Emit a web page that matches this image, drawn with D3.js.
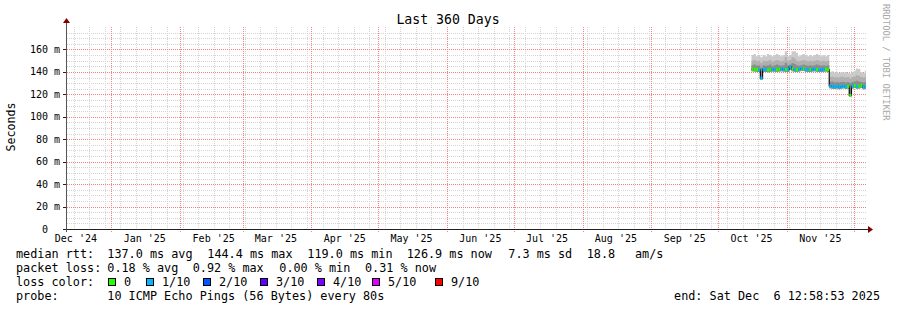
<!DOCTYPE html>
<html><head><meta charset="utf-8">
<script src="https://cdn.jsdelivr.net/npm/d3@7"></script>
<style>
html,body{margin:0;padding:0;background:#fff;}
text{font-family:"DejaVu Sans Mono",monospace;white-space:pre;}
</style></head>
<body><svg id="c" width="897" height="310"></svg>
<script>
// ---------- data ----------
const title = "Last 360 Days";
const rangeStart = new Date(2024, 11, 11, 12, 58, 53);
const rangeEnd   = new Date(2025, 11, 6, 12, 58, 53);
const dataStart  = new Date(2025, 9, 16);
const yTicks = [0, 20, 40, 60, 80, 100, 120, 140, 160];

// daily median rtt (ms), Oct 16 .. Dec 6 2025
const median = [142.5,142.3,142.0,141.8,134.5,142.2,142.0,141.6,141.9,142.3,142.1,141.8,142.4,142.6,142.3,141.9,142.0,144.4,142.5,142.1,141.8,142.3,143.0,142.8,142.2,141.9,142.0,142.3,142.5,142.1,141.8,142.0,142.2,142.4,142.0,
                127.5,127.0,126.8,127.2,126.5,127.0,127.4,126.8,127.1,119.0,127.3,127.6,126.9,127.2,127.8,126.5,126.9];
// daily packet loss (%)
const loss = [0,0,0,0.3,0.5,0.2,0.4,0,0,0.3,0.2,0,0,0.4,0.3,0,0.6,0.2,0,0.3,0,0.2,0.5,0,0.2,0.4,0,0.5,0.2,0,0.4,0.2,0.3,0,0,
              0.3,0.5,0.4,0.6,0.92,0.3,0.2,0.4,0,0,0.2,0,0.3,0,0,0.4,0.31];
// smoke: outer max, upper mid, upper inner, min (ms)
const smokeMax = [155,156,154,155,153,155,154,156,155,154,155,156,155,154,155,158.5,154,155,158.5,158.5,157,154,155,156,155,154,155,154,155,156,155,154,155,154,155,
                  140,140.5,139.5,140,139,140,139.5,140,139,138.5,140,141,143,142.5,140,139,141];
const smokeMid = [150,150.5,149.5,150,148,150,149.5,150,150.5,149,150,150.5,150,149.5,150,153,150,150.5,153,152,150,149.5,150,150.5,150,149.5,150,149.5,150,150.5,150,149.5,150,149.5,150,
                  135.5,136,135,135.5,135,136,135.5,135,135.5,134,135.5,136,137,136.5,135.5,135,136];
const smokeIn  = [146,146.5,145.5,146,144,146,145.5,146,146.5,145,146,146.5,146,145.5,146,148,146,146.5,148,147,146,145.5,146,146.5,146,145.5,146,145.5,146,146.5,146,145.5,146,145.5,146,
                  131,131.5,130.5,131,130.5,131,131,130.5,131,130,131,131.5,132,131.5,131,130.5,131];
const smokeMin = [140.5,140.3,140,139.8,133,140.2,140,139.6,139.9,140.3,140.1,139.8,140.4,140.6,140.3,139.9,140,142,140.5,140.1,139.8,140.3,141,140.8,140.2,139.9,140,140.3,140.5,140.1,139.8,140,140.2,140.4,140,
                  125.5,125,124.8,125.2,124.5,125,125.4,124.8,125.1,118,125.3,125.6,124.9,125.2,125.8,124.5,124.9];

const lossLabels = ["0","1/10","2/10","3/10","4/10","5/10","9/10"];
const lossColors = ["#26ff00","#00b8ff","#0059ff","#5e00ff","#7e00ff","#dd00ff","#ff0000"];
// legend rows: [text, x]
const legendRows = [
  [["median rtt:",16],["137.0 ms avg",107.3],["144.4 ms max",207.3],["119.0 ms min",307.3],["126.9 ms now",406.7],["7.3 ms sd",508.3],["18.8",586.7],["am/s",635]],
  [["packet loss:",16],["0.18 % avg",107.3],["0.92 % max",192.7],["0.00 % min",279.3],["0.31 % now",365]],
  [["loss color:",16]],
  [["probe:",16],["10 ICMP Echo Pings (56 Bytes) every 80s",107.3]]
];
const endText = "end: Sat Dec  6 12:58:53 2025";

// ---------- drawing ----------
const svg = d3.select("#c");
const X0 = 66, X1 = 866, Y0 = 229, Y1 = 27;
const x = d3.scaleTime().domain([rangeStart, rangeEnd]).range([X0, X1]);
const y = d3.scaleLinear().domain([0, 180]).range([Y0, Y1]);
const px = v => Math.round(v) + 0.5;
const minorCol = "#d4d4d4", majorCol = "#ff8080";

svg.append("rect").attr("width",897).attr("height",310).attr("fill","#fff");

// dotted grid drawn as 1px rects so the dots keep their colour
const grid = svg.append("g").attr("shape-rendering","crispEdges");
function hDots(yy, xa, xb, col) {
  const r = Math.round(yy);
  grid.append("path").attr("fill", col)
    .attr("d", d3.range(Math.round(xa), Math.round(xb), 2).map(xx => `M${xx},${r}h1v1h-1z`).join(""));
}
function vDots(xx, ya, yb, col) {
  const r = Math.round(xx);
  grid.append("path").attr("fill", col)
    .attr("d", d3.range(Math.round(ya), Math.round(yb), 2).map(yy => `M${r},${yy}h1v1h-1z`).join(""));
}
d3.range(5, 180, 5).filter(v => v % 20 !== 0).forEach(v => hDots(y(v), X0+1, X1, minorCol));
d3.timeWeek.range(rangeStart, rangeEnd).forEach(d => vDots(x(d), Y1, Y0, minorCol));
yTicks.filter(v => v > 0).forEach(v => hDots(y(v), X0-3, X1, majorCol));
d3.timeMonth.range(rangeStart, rangeEnd).forEach(d => vDots(x(d), Y1, Y0+3, majorCol));

// data
const days = d3.timeDay.range(dataStart, d3.timeDay.offset(dataStart, median.length));
const pts = days.map((d,i) => ({d, i}));
const ptsEnd = pts.concat([{d: rangeEnd, i: median.length-1}]);
const area = (lo, hi) => d3.area().curve(d3.curveStepAfter)
  .x(p => x(p.d)).y0(p => y(lo[p.i])).y1(p => y(hi[p.i]));
svg.append("path").datum(ptsEnd).attr("d", area(smokeMin, smokeMax)).attr("fill","#cacaca");
svg.append("path").datum(ptsEnd).attr("d", area(smokeMin, smokeMid)).attr("fill","#b0b0b0");
svg.append("path").datum(ptsEnd).attr("d", area(smokeMin, smokeIn)).attr("fill","#8c8c8c");

svg.append("path").datum(ptsEnd)
  .attr("d", d3.line().curve(d3.curveStepAfter).x(p => x(p.d)).y(p => y(median[p.i])))
  .attr("fill","none").attr("stroke","#111").attr("stroke-width",1.2);

const lossColor = l => l <= 0 ? lossColors[0] : lossColors[Math.min(6, Math.ceil(l/10))];
pts.forEach(p => {
  const x0 = x(p.d), x1 = p.i === median.length-1 ? x(rangeEnd) : x(days[p.i+1]);
  svg.append("rect").attr("x",x0).attr("width",x1-x0)
    .attr("y", y(median[p.i]) - 1.5).attr("height",3).attr("fill", lossColor(loss[p.i]));
});

// axes
const axisCol = "#222";
svg.append("line").attr("x1",X0-3).attr("x2",X1+2).attr("y1",Y0+0.5).attr("y2",Y0+0.5).attr("stroke",axisCol);
svg.append("line").attr("x1",X0+0.5).attr("x2",X0+0.5).attr("y1",Y0+3).attr("y2",Y1-4).attr("stroke","#555");
svg.append("path").attr("d",`M${X1+2},${Y0-3} L${X1+7},${Y0+0.5} L${X1+2},${Y0+4} Z`).attr("fill","#7f0000");
svg.append("path").attr("d",`M${X0-3},${Y1-4} L${X0+0.5},${Y1-9} L${X0+4},${Y1-4} Z`).attr("fill","#7f0000");
yTicks.forEach(v => {
  svg.append("line").attr("x1",X0-3).attr("x2",X0).attr("y1",px(y(v))).attr("y2",px(y(v))).attr("stroke",axisCol);
});

// y labels
const fmt = v => v === 0 ? "0  " : v + " m";
svg.append("g").selectAll("text").data(yTicks).join("text")
  .attr("x", 60).attr("y", v => y(v)).attr("dy","0.35em").attr("text-anchor","end")
  .attr("font-size",10).attr("fill","#000").text(fmt);

// x labels (mid-month)
const months = d3.timeMonth.range(d3.timeMonth.floor(rangeStart), rangeEnd)
  .filter(m => { const c = d3.timeDay.offset(m, 15); return c >= rangeStart && c <= rangeEnd; });
const mfmt = d3.timeFormat("%b '%y");
svg.append("g").selectAll("text").data(months).join("text")
  .attr("x", m => x(d3.timeDay.offset(m, 15))).attr("y", 238).attr("dy","0.35em")
  .attr("text-anchor","middle").attr("font-size",10).text(mfmt);

// title
svg.append("text").attr("x",448).attr("y",19).attr("dy","0.35em").attr("text-anchor","middle")
  .attr("font-size",13.2).text(title);
// y axis title
svg.append("text").attr("transform","translate(11,127) rotate(-90)").attr("dy","0.35em")
  .attr("text-anchor","middle").attr("font-size",11.6).text("Seconds");
// watermark
svg.append("text").attr("transform","translate(886,4) rotate(90)").attr("dy","0.35em")
  .attr("text-anchor","start").attr("font-size",8.8).attr("fill","#a8a8a8").text("RRDTOOL / TOBI OETIKER");

// legend
legendRows.forEach((row,i) => {
  row.forEach(([t,tx]) => {
    svg.append("text").attr("x",tx).attr("y",254 + i*14).attr("dy","0.35em").attr("font-size",11.8).text(t);
  });
});
const boxX = [108,146,203,260,317,372,435];
lossLabels.forEach((l,i) => {
  svg.append("rect").attr("x",boxX[i]+0.5).attr("y",278.5).attr("width",7).attr("height",7)
    .attr("fill",lossColors[i]).attr("stroke","#000").attr("stroke-width",1);
  svg.append("text").attr("x",boxX[i]+16).attr("y",282).attr("dy","0.35em").attr("font-size",11.8).text(l);
});
svg.append("text").attr("x",880).attr("y",296).attr("dy","0.35em").attr("text-anchor","end")
  .attr("font-size",11.8).text(endText);
</script></body></html>
